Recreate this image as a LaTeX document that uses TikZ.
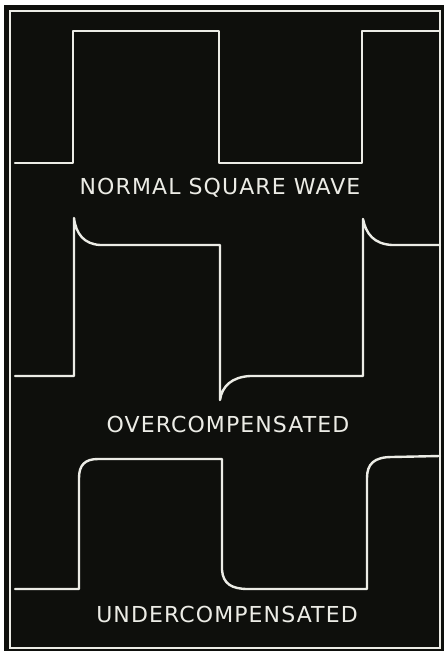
\documentclass[tikz,border=0pt]{standalone}
\usepackage{fontspec}
\newfontfamily\scopefont[LetterSpace=5]{DejaVu Sans}
\definecolor{screen}{RGB}{14,15,12}
\definecolor{trace}{RGB}{236,236,230}
\begin{document}
\begin{tikzpicture}[x=1pt,y=-1pt,
  wave/.style={draw=trace,line width=2.4pt,line join=round,line cap=round},
  frameline/.style={draw=trace,line width=1.6pt},
  caption/.style={text=trace,inner sep=0pt,anchor=base,font=\scopefont\fontsize{22}{22}\selectfont}]
\useasboundingbox (0,0) rectangle (446,652);
\fill[white] (0,0) rectangle (446,652);
\fill[screen] (4,5) rectangle (444,651);
\draw[frameline] (10,11) rectangle (440,648);
% normal square wave
\draw[wave] (15,163) -- (73,163) -- (73,31) -- (219,31) -- (219,163) -- (362,163) -- (362,31) -- (440,31);
\node[caption] (normal) at (220,194.5) {NORMAL SQUARE WAVE};
% overcompensated
\draw[wave] (15,376) -- (74,376) -- (74,218)
  .. controls (76,234) and (84,244) .. (100,245) -- (220,245) -- (220,400)
  .. controls (222,386) and (232,377) .. (250,376) -- (363,376) -- (363,219)
  .. controls (366,234) and (374,244) .. (392,245) -- (440,245);
\node[caption] (over) at (228,432.5) {OVERCOMPENSATED};
% undercompensated
\draw[wave] (15,589) -- (79,589) -- (79,478)
  .. controls (79,465) and (85,459) .. (98,459) -- (222,459) -- (222,570)
  .. controls (223,584) and (232,589) .. (248,589) -- (367,589) -- (367,478)
  .. controls (367,464) and (374,457) .. (392,457) -- (440,456);
\node[caption] (under) at (227,622.5) {UNDERCOMPENSATED};
\end{tikzpicture}
\end{document}
